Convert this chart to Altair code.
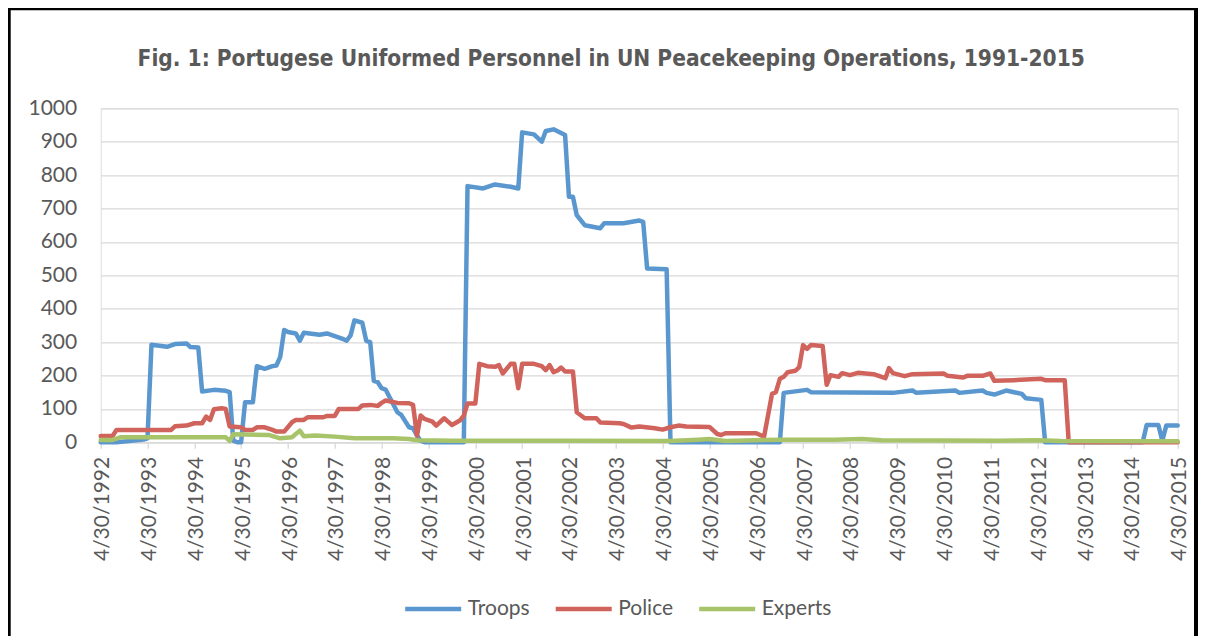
import altair as alt
import pandas as pd

TITLE = "Fig. 1: Portugese Uniformed Personnel in UN Peacekeeping Operations, 1991-2015"
SERIES = ["Troops", "Police", "Experts"]
COLORS = ["#5B97CF", "#D0645C", "#A8C46A"]

troops_dates = ["1992-04", "1992-08", "1993-03", "1993-04", "1993-05", "1993-09", "1993-11", "1994-02",
                "1994-03", "1994-05", "1994-06", "1994-09", "1994-12", "1995-01", "1995-02", "1995-03",
                "1995-04", "1995-05", "1995-07", "1995-08", "1995-10", "1995-12", "1996-01", "1996-02",
                "1996-03", "1996-04", "1996-06", "1996-07", "1996-08", "1996-12", "1997-02", "1997-04",
                "1997-06", "1997-07", "1997-08", "1997-09", "1997-11", "1997-12", "1998-01", "1998-02",
                "1998-03", "1998-04", "1998-05", "1998-08", "1998-09", "1998-11", "1998-12", "1999-01",
                "1999-02", "1999-03", "2000-01", "2000-02", "2000-06", "2000-09", "2001-01", "2001-03",
                "2001-04", "2001-07", "2001-09", "2001-10", "2001-12", "2002-03", "2002-04", "2002-05",
                "2002-06", "2002-08", "2002-12", "2003-01", "2003-06", "2003-10", "2003-11", "2003-12",
                "2004-05", "2004-06", "2006-10", "2006-11", "2007-05", "2007-06", "2009-03", "2009-08",
                "2009-09", "2010-07", "2010-08", "2011-02", "2011-03", "2011-05", "2011-08", "2011-10",
                "2011-12", "2012-01", "2012-05", "2012-06", "2014-07", "2014-08", "2014-11", "2014-12",
                "2015-01", "2015-04"]
troops_vals = [0, 0, 8, 12, 292, 286, 294, 296,
               285, 284, 152, 157, 154, 150, 5, 0,
               0, 120, 120, 228, 220, 228, 230, 256,
               336, 330, 326, 304, 328, 322, 326, 318,
               310, 304, 320, 365, 358, 304, 300, 184,
               180, 162, 158, 90, 82, 45, 42, 20,
               5, 0, 0, 767, 760, 772, 765, 760,
               928, 922, 900, 932, 937, 920, 735, 735,
               680, 650, 641, 656, 656, 664, 660, 520,
               518, 0, 0, 148, 157, 150, 148, 155,
               148, 155, 148, 155, 148, 143, 155, 150,
               145, 132, 127, 0, 0, 52, 52, 5,
               50, 50]

police_dates = ["1992-04", "1992-07", "1992-08", "1993-10", "1993-11", "1994-02", "1994-04", "1994-06",
                "1994-07", "1994-08", "1994-09", "1994-11", "1994-12", "1995-01", "1995-04", "1995-05",
                "1995-07", "1995-08", "1995-10", "1995-12", "1996-01", "1996-03", "1996-05", "1996-06",
                "1996-08", "1996-09", "1997-01", "1997-02", "1997-04", "1997-05", "1997-10", "1997-11",
                "1998-01", "1998-03", "1998-04", "1998-05", "1998-08", "1998-11", "1998-12", "1999-01",
                "1999-02", "1999-03", "1999-05", "1999-06", "1999-08", "1999-09", "1999-10", "1999-12",
                "2000-01", "2000-02", "2000-04", "2000-05", "2000-07", "2000-09", "2000-10", "2000-11",
                "2001-01", "2001-02", "2001-03", "2001-04", "2001-07", "2001-09", "2001-10", "2001-11",
                "2001-12", "2002-01", "2002-02", "2002-03", "2002-05", "2002-06", "2002-08", "2002-11",
                "2002-12", "2003-05", "2003-06", "2003-08", "2003-10", "2004-02", "2004-04", "2004-06",
                "2004-08", "2004-10", "2005-04", "2005-06", "2005-07", "2005-08", "2006-04", "2006-06",
                "2006-08", "2006-09", "2006-10", "2006-11", "2006-12", "2007-02", "2007-03", "2007-04",
                "2007-05", "2007-06", "2007-09", "2007-10", "2007-11", "2008-01", "2008-02", "2008-04",
                "2008-06", "2008-10", "2009-01", "2009-02", "2009-03", "2009-06", "2009-08", "2010-04",
                "2010-05", "2010-09", "2010-10", "2011-02", "2011-04", "2011-05", "2011-10", "2012-05",
                "2012-06", "2012-11", "2012-12", "2015-04"]
police_vals = [19, 19, 37, 37, 48, 50, 57, 57,
               77, 67, 99, 102, 100, 47, 45, 37,
               37, 45, 45, 37, 32, 32, 60, 67,
               67, 75, 75, 79, 79, 100, 100, 110,
               112, 109, 118, 125, 118, 117, 112, 20,
               80, 70, 62, 50, 72, 62, 52, 65,
               80, 116, 116, 235, 228, 226, 231, 206,
               235, 235, 162, 235, 235, 228, 216, 231,
               210, 215, 224, 212, 212, 90, 72, 72,
               59, 57, 55, 44, 47, 42, 38, 45,
               50, 47, 46, 25, 22, 27, 27, 17,
               145, 150, 190, 196, 210, 214, 225, 291,
               280, 291, 288, 172, 201, 196, 207, 201,
               208, 204, 192, 222, 207, 198, 204, 206,
               199, 194, 199, 199, 206, 184, 186, 190,
               186, 186, 0, 0]

experts_dates = ["1992-04", "1992-07", "1992-09", "1994-12", "1995-01", "1995-02", "1995-11", "1996-02",
                 "1996-05", "1996-07", "1996-08", "1996-11", "1997-04", "1997-09", "1998-07", "1998-11",
                 "1999-01", "1999-10", "2002-04", "2004-06", "2005-01", "2005-04", "2005-08", "2006-11",
                 "2007-12", "2008-07", "2008-12", "2011-06", "2012-04", "2012-10", "2015-04"]
experts_vals = [7, 7, 15, 15, 4, 24, 22, 12,
                15, 35, 18, 20, 17, 12, 12, 10,
                6, 5, 5, 4, 8, 10, 4, 8,
                8, 10, 6, 5, 6, 4, 3]

YEARS = list(range(1992, 2016))
Y_TICKS = list(range(0, 1001, 100))


def frame_of(name, dates, vals):
    d = pd.to_datetime(pd.Series(dates), format="%Y-%m") + pd.offsets.MonthEnd(0)
    return pd.DataFrame({"date": d.dt.strftime("%Y-%m-%d"), "value": vals, "series": name})


W, H = 1077, 334
PAD_L, PAD_T = 92.7, 100.3
TOTAL_W, TOTAL_H = 1190, 628
FONT = "Lato"
GREY = "#595959"
TITLE_FONT = "Liberation Sans Narrow, Arial Narrow, Noto Sans Condensed, DejaVu Sans Condensed, Liberation Sans"

x_enc = alt.X(
    "date:T",
    scale=alt.Scale(type="utc",
                    domain=[alt.DateTime(year=1992, month=4, date=30, utc=True),
                            alt.DateTime(year=2015, month=4, date=30, utc=True)],
                    nice=False),
    axis=alt.Axis(values=[alt.DateTime(year=y, month=4, date=30, utc=True) for y in YEARS],
                  labelExpr="utcFormat(datum.value, '%-m/%-d/%Y')", labelAngle=270, title=None,
                  grid=False, domain=True, domainColor="#D9D9D9", domainWidth=1.3,
                  ticks=True, tickColor="#D9D9D9", tickSize=6, tickWidth=1.3,
                  labelPadding=8, labelOffset=2, labelFont=FONT, labelFontSize=21,
                  labelColor=GREY, labelOverlap=False),
)
y_enc = alt.Y(
    "value:Q",
    scale=alt.Scale(domain=[0, 1000], nice=False),
    axis=alt.Axis(values=Y_TICKS, format="d", title=None, domain=False, ticks=False, grid=True,
                  gridColor="#D9D9D9", gridWidth=1.3, labelPadding=24, labelFont=FONT,
                  labelFontSize=21, labelColor=GREY),
)
color_enc = alt.Color(
    "series:N",
    scale=alt.Scale(domain=SERIES, range=COLORS),
    sort=SERIES,
    legend=alt.Legend(title=None, orient="none", direction="horizontal", legendX=302, legendY=470,
                      symbolType="stroke", symbolSize=3136, symbolStrokeWidth=4.5,
                      labelFont=FONT, labelFontSize=21, labelColor=GREY, labelOffset=4,
                      columnPadding=16.5),
)

frame = alt.Chart(alt.Data(values=[{}])).mark_rect(
    fillOpacity=0, stroke="black", strokeWidth=4
).encode(x=alt.value(-92), x2=alt.value(TOTAL_W - PAD_L - 2), y=alt.value(-100), y2=alt.value(560))

layers = [frame]
for name, dts, vals in [("Troops", troops_dates, troops_vals),
                        ("Police", police_dates, police_vals),
                        ("Experts", experts_dates, experts_vals)]:
    layers.append(
        alt.Chart(frame_of(name, dts, vals)).mark_line(
            strokeWidth=4.5, strokeCap="round", strokeJoin="round"
        ).encode(x=x_enc, y=y_enc, color=color_enc)
    )

chart = alt.layer(*layers).properties(
    width=W, height=H,
    title=alt.TitleParams(TITLE, font=TITLE_FONT, fontSize=22.5, fontWeight="bold",
                          color=GREY, anchor="middle", frame="group", baseline="alphabetic",
                          offset=-82, dx=-28),
    autosize=alt.AutoSizeParams(type="none"),
    padding={"left": PAD_L, "top": PAD_T, "right": TOTAL_W - PAD_L - W,
             "bottom": TOTAL_H - PAD_T - H},
).configure_view(stroke=None).configure(background="white")

chart.save("out.html", embed_options={"renderer": "svg", "actions": False})
